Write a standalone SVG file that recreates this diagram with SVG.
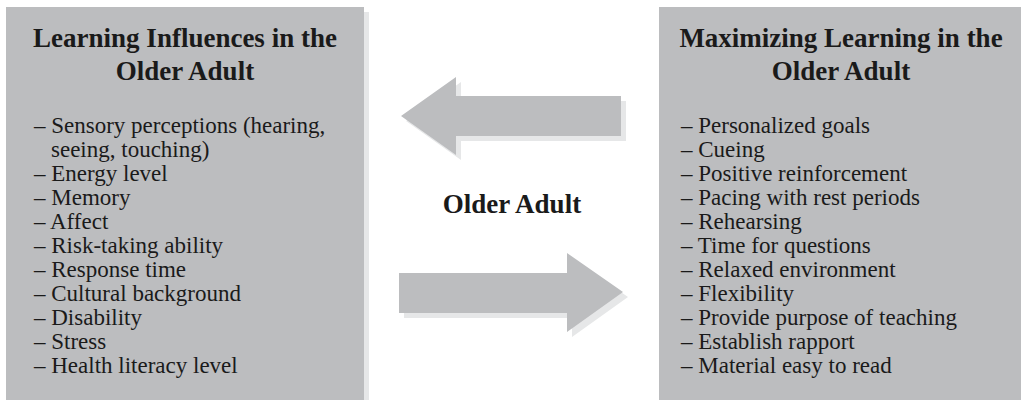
<svg xmlns="http://www.w3.org/2000/svg" width="1021" height="400" viewBox="0 0 1021 400">
<style>
.box{fill:#bcbdbf}
.shadow{fill:#e6e7e8}
.title{font-family:"Liberation Serif","Times New Roman",serif;font-weight:bold;font-size:27px;fill:#1a1a1a;text-anchor:middle}
.item{font-family:"Liberation Serif","Times New Roman",serif;font-size:23px;fill:#1a1a1a}
.arrow{fill:#bcbdbf}
</style>
<rect width="1021" height="400" fill="#ffffff"/>
<g id="left-box">
<rect class="shadow" x="364" y="12" width="5" height="388"/>
<rect class="box" x="6" y="7" width="358" height="393"/>
<text class="title" x="185" y="47">Learning Influences in the</text>
<text class="title" x="185" y="80">Older Adult</text>
<text class="item" x="34" y="133">– Sensory perceptions (hearing,</text>
<text class="item" x="51" y="157">seeing, touching)</text>
<text class="item" x="34" y="181">– Energy level</text>
<text class="item" x="34" y="205">– Memory</text>
<text class="item" x="34" y="229">– Affect</text>
<text class="item" x="34" y="253">– Risk-taking ability</text>
<text class="item" x="34" y="277">– Response time</text>
<text class="item" x="34" y="301">– Cultural background</text>
<text class="item" x="34" y="325">– Disability</text>
<text class="item" x="34" y="349">– Stress</text>
<text class="item" x="34" y="373">– Health literacy level</text>
</g>
<g id="right-box">
<rect class="box" x="659" y="7" width="362" height="393"/>
<text class="title" x="841" y="47">Maximizing Learning in the</text>
<text class="title" x="841" y="80">Older Adult</text>
<text class="item" x="681" y="133">– Personalized goals</text>
<text class="item" x="681" y="157">– Cueing</text>
<text class="item" x="681" y="181">– Positive reinforcement</text>
<text class="item" x="681" y="205">– Pacing with rest periods</text>
<text class="item" x="681" y="229">– Rehearsing</text>
<text class="item" x="681" y="253">– Time for questions</text>
<text class="item" x="681" y="277">– Relaxed environment</text>
<text class="item" x="681" y="301">– Flexibility</text>
<text class="item" x="681" y="325">– Provide purpose of teaching</text>
<text class="item" x="681" y="349">– Establish rapport</text>
<text class="item" x="681" y="373">– Material easy to read</text>
</g>
<g id="center-label">
<text class="title" x="512" y="213">Older Adult</text>
</g>
<g id="connectors">
<polygon class="shadow" points="406,121 461,82 461,101 626,101 626,141 461,141 461,160"/>
<polygon class="arrow" points="401,116 456,77 456,96 621,96 621,136 456,136 456,155"/>
<polygon class="shadow" points="404,278 572,278 572,258 628,297 572,337 572,318 404,318"/>
<polygon class="arrow" points="399,273 567,273 567,253 623,292 567,332 567,313 399,313"/>
</g>
</svg>
